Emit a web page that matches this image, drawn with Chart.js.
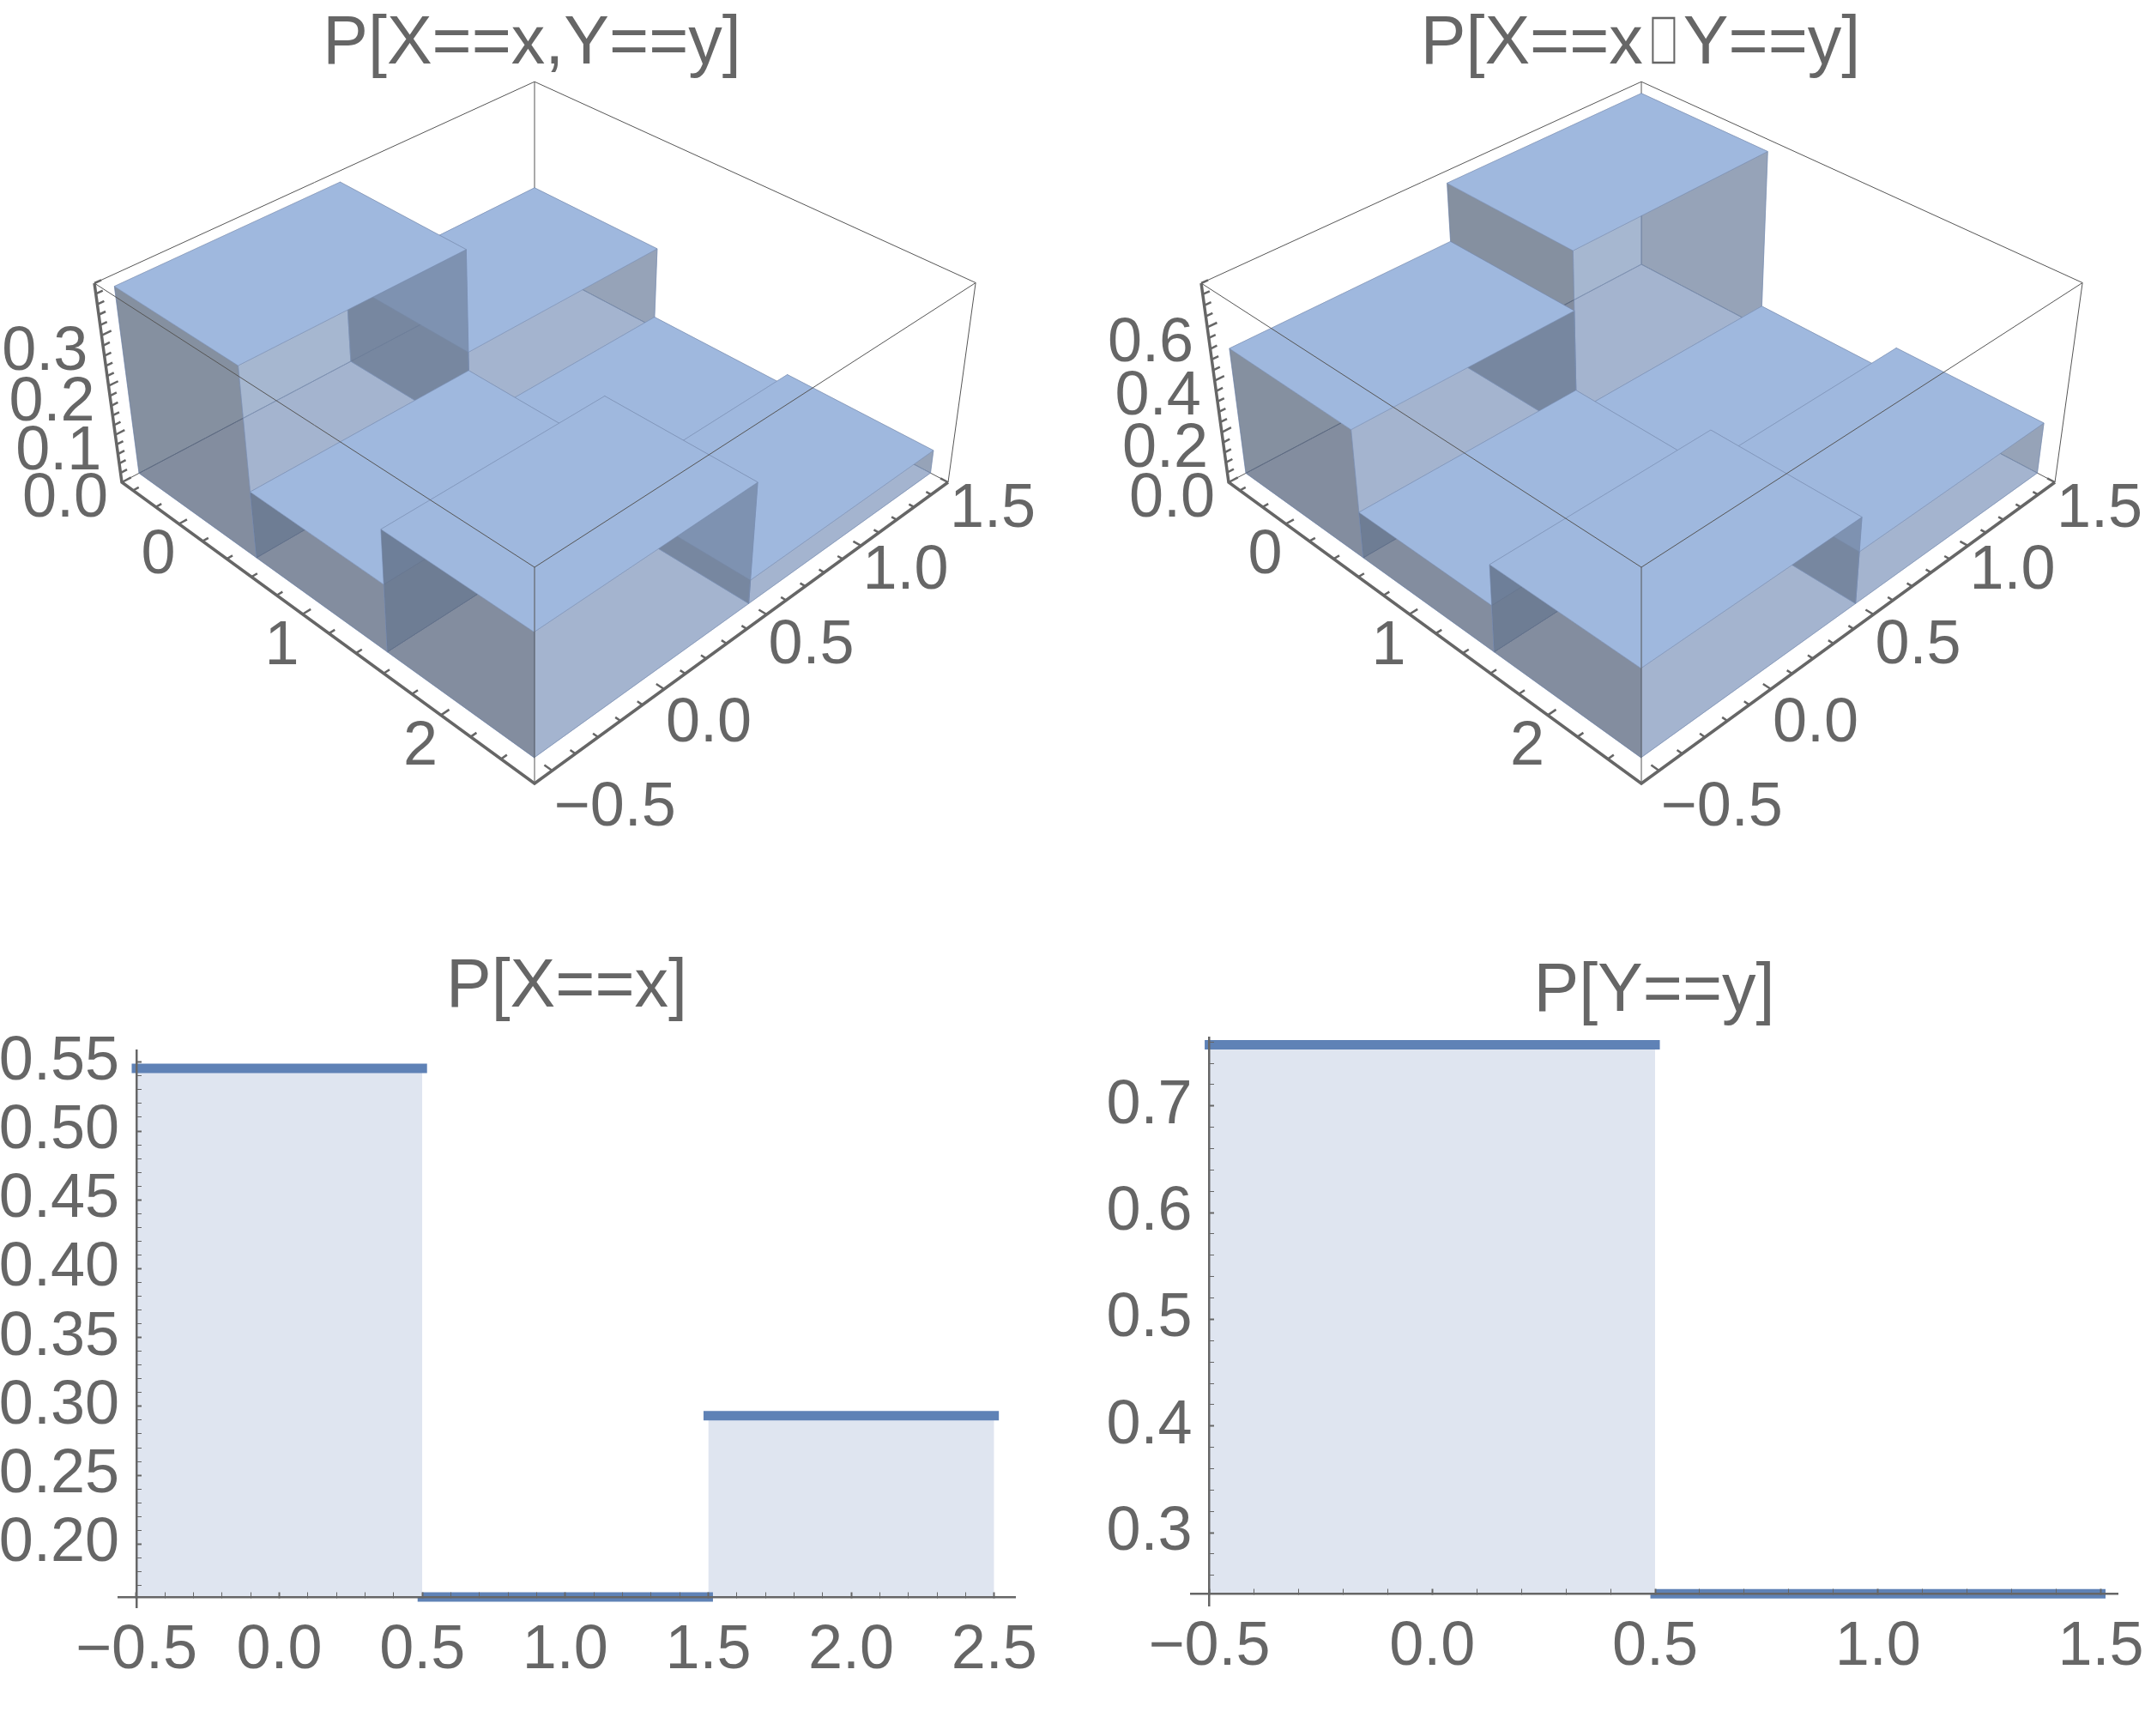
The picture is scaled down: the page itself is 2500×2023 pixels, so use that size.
<!DOCTYPE html>
<html>
<head>
<meta charset="utf-8">
<style>
html, body { margin: 0; background: #fff; width: 2500px; height: 2023px; overflow: hidden; }
canvas { position: absolute; }
</style>
<script src="https://cdn.jsdelivr.net/npm/chart.js@4"></script>
</head>
<body>
<canvas id="jointChart" width="1240" height="1000" style="left:0;top:0"></canvas>
<canvas id="condChart" width="1264" height="1000" style="left:1280px;top:0"></canvas>
<canvas id="xChart" width="1316" height="933" style="left:0;top:1090px"></canvas>
<canvas id="yChart" width="1296" height="933" style="left:1280px;top:1090px"></canvas>
<script>
// values
const xCats = [0, 1, 2];
const yCats = [0, 1];
const jointY0 = [0.378, 0.135, 0.241];
const jointY1 = [0.173, 0.023, 0.048];
const condY0 = [0.489, 0.178, 0.33];
const condY1 = [0.714, 0.09, 0.2];
const edgesX = [-0.5, 0.5, 1.5, 2.5];
const edgesY = [-0.5, 0.5, 1.5];
const marginalX = [0.5455, 0.1616, 0.2933];
const marginalY = [0.7573, 0.2427];

const xAxisLabels3d = [0, 1, 2];
const yAxisLabels3d = [-0.5, 0, 0.5, 1, 1.5];
const yLabelDrop = [44, 41, 37, 30, 32];
const jointZLabels = [0, 0.1, 0.2, 0.3];
const condZLabels = [0, 0.2, 0.4, 0.6];
const xPanelTicks = [-0.5, 0, 0.5, 1, 1.5, 2, 2.5];
const xPanelYTicks = [0.2, 0.25, 0.3, 0.35, 0.4, 0.45, 0.5, 0.55];
const yPanelTicks = [-0.5, 0, 0.5, 1, 1.5];
const yPanelYTicks = [0.3, 0.4, 0.5, 0.6, 0.7];

const TEXT = '#666666';
const AXIS = '#666666';
const FONT = "'Liberation Sans', 'DejaVu Sans', sans-serif";
const TICK_SIZE = 72;
const TITLE_SIZE = 79;
const TOP_FACE = '#9fb8de';
const BOTTOM_FACE = 'rgba(130,150,190,0.5)';
const DARK_WALL = 'rgba(72,82,98,0.5)';
const LIGHT_WALL = 'rgba(138,160,194,0.5)';
const EDGE = 'rgba(120,140,175,0.5)';
const BOX_LINE = '#555555';

// page positions of the box corners of the first 3D panel
const boxCorners = {
    floorLeft: [142, 562], floorFront: [623, 913], floorBack: [623, 308], floorRight: [1105, 562],
    topLeft: [110, 330], topFront: [623, 664]
};
const X_LO = -0.5, X_HI = 2.615, Y_LO = -0.575, Y_HI = 1.5;

function makeProjection(dx, zMax) {
    const [O, A, B, D, T, F] = ['floorLeft', 'floorFront', 'floorBack', 'floorRight', 'topLeft', 'topFront']
        .map(k => [boxCorners[k][0] + dx, boxCorners[k][1]]);
    const dx1 = A[0] - D[0], dx2 = B[0] - D[0], sx = O[0] - A[0] + D[0] - B[0];
    const dy1 = A[1] - D[1], dy2 = B[1] - D[1], sy = O[1] - A[1] + D[1] - B[1];
    const den = dx1 * dy2 - dx2 * dy1;
    const g = (sx * dy2 - dx2 * sy) / den;
    const h = (dx1 * sy - sx * dy1) / den;
    // verticals meet under the front corner
    const c = (T[0] - O[0]) / (F[0] - T[0]);
    return (x, y, z) => {
        const u = (x - X_LO) / (X_HI - X_LO), v = (y - Y_LO) / (Y_HI - Y_LO), t = z / zMax;
        const w = 1 + g * u + h * v + c * t;
        const at = i => (O[i] + u * ((1 + g) * A[i] - O[i]) + v * ((1 + h) * B[i] - O[i]) + t * ((1 + c) * T[i] - O[i])) / w;
        return { x: at(0), y: at(1) };
    };
}

function polyDataset(points, fillColor, strokeColor, width) {
    return {
        data: points.concat([points[0]]),
        showLine: true,
        fill: 'shape',
        backgroundColor: fillColor,
        borderColor: strokeColor,
        borderWidth: width,
        pointRadius: 0,
        clip: false
    };
}

function lineDataset(points, color, width) {
    return { data: points, showLine: true, fill: false, borderColor: color, borderWidth: width, pointRadius: 0, clip: false };
}

// tick marks as one broken line
function tickDataset(segments, color, width) {
    const pts = [];
    segments.forEach(s => { pts.push(s[0], s[1], { x: NaN, y: NaN }); });
    return lineDataset(pts, color, width);
}

function steps(from, to, step) {
    const out = [];
    const n = Math.floor((to - from) / step + 1e-6);
    for (let i = 0; i <= n; i++) out.push(Math.round((from + i * step) * 1000) / 1000);
    return out;
}

function tickText(v, digits) {
    return v.toFixed(digits).replace('-', '\u2212');
}

const labels3d = {
    id: 'labels3d',
    afterDraw(chart, args, opts) {
        const ctx = chart.ctx;
        ctx.save();
        ctx.fillStyle = TEXT;
        ctx.font = TICK_SIZE + 'px ' + FONT;
        ctx.textBaseline = 'middle';
        opts.items.forEach(it => {
            ctx.textAlign = it.align;
            ctx.fillText(it.text, chart.scales.x.getPixelForValue(it.x), chart.scales.y.getPixelForValue(it.y));
        });
        ctx.restore();
    }
};

function chart3d(canvasId, left, dx, rowY0, rowY1, zMax, zLabels, zMinor, title) {
    const project = makeProjection(dx, zMax);
    const corner = (u, v, t) => project(u ? X_HI : X_LO, v ? Y_HI : Y_LO, t ? zMax : 0);
    const list = [];

    // box edges behind the bars
    list.push(lineDataset([corner(0, 0, 0), corner(0, 1, 0), corner(1, 1, 0)], BOX_LINE, 1));
    list.push(lineDataset([corner(0, 1, 0), corner(0, 1, 1)], BOX_LINE, 1));
    list.push(lineDataset([corner(0, 0, 1), corner(0, 1, 1), corner(1, 1, 1)], BOX_LINE, 1));

    // bars, far ones first
    const bars = [];
    xCats.forEach((xc, i) => yCats.forEach((yc, j) => {
        bars.push({ i, j, z: (j === 0 ? rowY0 : rowY1)[i] });
    }));
    bars.sort((a, b) => (a.i - a.j) - (b.i - b.j));
    bars.forEach(b => {
        const x0 = edgesX[b.i], x1 = edgesX[b.i + 1], y0 = edgesY[b.j], y1 = edgesY[b.j + 1], z = b.z;
        const p = project;
        list.push(polyDataset([p(x0, y0, 0), p(x1, y0, 0), p(x1, y1, 0), p(x0, y1, 0)], BOTTOM_FACE, EDGE, 1));
        list.push(polyDataset([p(x0, y0, 0), p(x0, y1, 0), p(x0, y1, z), p(x0, y0, z)], LIGHT_WALL, EDGE, 1));
        list.push(polyDataset([p(x0, y1, 0), p(x1, y1, 0), p(x1, y1, z), p(x0, y1, z)], DARK_WALL, EDGE, 1));
        list.push(polyDataset([p(x0, y0, 0), p(x1, y0, 0), p(x1, y0, z), p(x0, y0, z)], DARK_WALL, EDGE, 1));
        list.push(polyDataset([p(x1, y0, 0), p(x1, y1, 0), p(x1, y1, z), p(x1, y0, z)], LIGHT_WALL, EDGE, 1));
        list.push(polyDataset([p(x0, y0, z), p(x1, y0, z), p(x1, y1, z), p(x0, y1, z)], TOP_FACE, EDGE, 1));
    });

    // box edges in front of the bars
    list.push(lineDataset([corner(0, 0, 1), corner(1, 0, 1), corner(1, 1, 1)], BOX_LINE, 1));
    list.push(lineDataset([corner(1, 0, 0), corner(1, 0, 1)], BOX_LINE, 1));
    list.push(lineDataset([corner(1, 1, 0), corner(1, 1, 1)], BOX_LINE, 1));

    // thick axes
    list.push(lineDataset([corner(0, 0, 1), corner(0, 0, 0), corner(1, 0, 0), corner(1, 1, 0)], AXIS, 3.5));

    const major = [], minor = [];
    steps(-0.4, 2.4, 0.2).forEach(v => {
        const isMajor = Math.abs(v - Math.round(v)) < 1e-6;
        (isMajor ? major : minor).push([project(v, Y_LO, 0), project(v, Y_LO + (isMajor ? 0.035 : 0.025), 0)]);
    });
    steps(-0.5, 1.5, 0.1).forEach(v => {
        const isMajor = Math.abs(v * 2 - Math.round(v * 2)) < 1e-6;
        (isMajor ? major : minor).push([project(X_HI, v, 0), project(X_HI - (isMajor ? 0.05 : 0.033), v, 0)]);
    });
    steps(0, zMax, zMinor).forEach(v => {
        (zLabels.includes(v) ? major : minor).push([project(X_LO, Y_LO, v), project(X_LO, Y_LO + (zLabels.includes(v) ? 0.04 : 0.028), v)]);
    });
    list.push(tickDataset(minor, AXIS, 2.5));
    list.push(tickDataset(major, AXIS, 2.5));

    const items = [];
    xAxisLabels3d.forEach(v => {
        const p = project(v, Y_LO, 0);
        items.push({ text: String(v), x: p.x - 24, y: p.y + 38, align: 'center' });
    });
    yAxisLabels3d.forEach((v, i) => {
        const p = project(X_HI, v, 0);
        items.push({ text: tickText(v, 1), x: p.x + 2, y: p.y + yLabelDrop[i], align: 'left' });
    });
    zLabels.forEach(v => {
        const p = project(X_LO, Y_LO, v);
        items.push({ text: tickText(v, 1), x: p.x - 16, y: p.y + 20, align: 'right' });
    });

    const canvas = document.getElementById(canvasId);
    new Chart(canvas, {
        type: 'scatter',
        data: { datasets: list.reverse() },   // first dataset is painted last
        plugins: [labels3d],
        options: {
            responsive: false,
            animation: false,
            layout: { padding: 0 },
            plugins: {
                legend: { display: false },
                tooltip: { enabled: false },
                labels3d: { items },
                title: {
                    display: true,
                    text: title,
                    color: TEXT,
                    font: { family: FONT, size: TITLE_SIZE, weight: 'normal', lineHeight: 1 },
                    padding: { top: 13, bottom: 0 }
                }
            },
            scales: {
                x: { type: 'linear', display: false, min: left, max: left + canvas.width },
                y: { type: 'linear', display: false, reverse: true, min: 92, max: 1000 }
            }
        }
    });
}

function chart2d(cfg) {
    const list = [];
    cfg.values.forEach((v, i) => {
        list.push({
            data: [{ x: cfg.edges[i], y: v }, { x: cfg.edges[i + 1], y: v }],
            showLine: true,
            fill: { value: cfg.base },
            backgroundColor: '#dfe5f0',
            borderColor: '#5f82b6',
            borderWidth: 11,
            borderCapStyle: 'square',
            pointRadius: 0,
            clip: false
        });
    });
    const isMajor = (list2, v) => list2.some(m => Math.abs(m - v) < 1e-6);
    new Chart(document.getElementById(cfg.id), {
        type: 'scatter',
        data: { datasets: list },
        options: {
            responsive: false,
            animation: false,
            layout: { padding: cfg.padding },
            plugins: {
                legend: { display: false },
                tooltip: { enabled: false },
                title: {
                    display: true,
                    text: cfg.title,
                    color: TEXT,
                    font: { family: FONT, size: TITLE_SIZE, weight: 'normal', lineHeight: 1 },
                    padding: cfg.titlePad
                }
            },
            scales: {
                x: {
                    type: 'linear',
                    position: { y: cfg.base },
                    min: cfg.xMin,
                    max: cfg.xMax,
                    afterBuildTicks: axis => { axis.ticks = steps(cfg.xTicks[0], cfg.xTicks[cfg.xTicks.length - 1], 0.1).map(value => ({ value })); },
                    border: { color: AXIS, width: 2.5, z: 1 },
                    grid: {
                        z: 1,
                        drawOnChartArea: false,
                        tickLength: -7,
                        tickColor: AXIS,
                        tickWidth: ctx => isMajor(cfg.xTicks, ctx.tick.value) ? 2 : 1
                    },
                    ticks: {
                        autoSkip: false,
                        maxRotation: 0,
                        minRotation: 0,
                        padding: 27,
                        color: TEXT,
                        font: { family: FONT, size: TICK_SIZE },
                        callback: v => isMajor(cfg.xTicks, v) ? tickText(v, 1) : ''
                    }
                },
                y: {
                    type: 'linear',
                    position: { x: -0.5 },
                    min: cfg.yMin,
                    max: cfg.yMax,
                    afterBuildTicks: axis => { axis.ticks = steps(cfg.yTicks[0] - cfg.yLead, cfg.yMax, cfg.yMinor).map(value => ({ value })); },
                    border: { color: AXIS, width: 2.5, z: 1 },
                    grid: {
                        z: 1,
                        drawOnChartArea: false,
                        tickLength: -7,
                        tickColor: AXIS,
                        tickWidth: ctx => isMajor(cfg.yTicks, ctx.tick.value) ? 2 : 1
                    },
                    ticks: {
                        autoSkip: false,
                        color: TEXT,
                        font: { family: FONT, size: TICK_SIZE },
                        // labels sit right on a floating axis, the space holds them off it
                        callback: v => isMajor(cfg.yTicks, v) ? tickText(v, cfg.yDigits) + '\u00A0' : ''
                    }
                }
            }
        }
    });
}

chart3d('jointChart', 0, 0, jointY0, jointY1, 0.4, jointZLabels, 0.02, 'P[X==x,Y==y]');
chart3d('condChart', 1280, 1290, condY0, condY1, 0.76, condZLabels, 0.04, 'P[X==x\u2337Y==y]');

chart2d({
    id: 'xChart', title: 'P[X==x]', titlePad: { top: 22, bottom: 33 },
    padding: { left: 138, right: 133, top: 0, bottom: 150 },
    edges: edgesX, values: marginalX, base: marginalX[1],
    xMin: -0.563, xMax: 2.573, yMin: 0.1541, yMax: 0.5586,
    xTicks: xPanelTicks, yTicks: xPanelYTicks, yMinor: 0.01, yLead: 0.03, yDigits: 2
});
chart2d({
    id: 'yChart', title: 'P[Y==y]', titlePad: { top: 27, bottom: 13 },
    padding: { left: 108, right: 108, top: 0, bottom: 152 },
    edges: edgesY, values: marginalY, base: marginalY[1],
    xMin: -0.5415, xMax: 1.5375, yMin: 0.2317, yMax: 0.7642,
    xTicks: yPanelTicks, yTicks: yPanelYTicks, yMinor: 0.02, yLead: 0.04, yDigits: 1
});
</script>
</body>
</html>
